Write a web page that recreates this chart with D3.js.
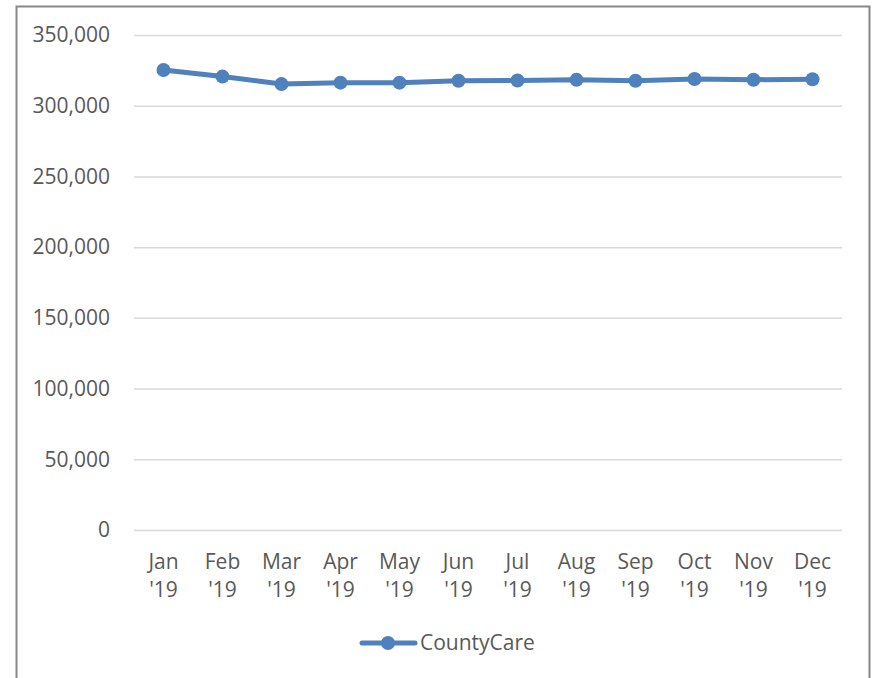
<!DOCTYPE html>
<html>
<head>
<meta charset="utf-8">
<script src="https://cdn.jsdelivr.net/npm/d3@7"></script>
<style>
  body { margin: 0; background: #fff; }
  svg text { font-family: "Open Sans", "Liberation Sans", sans-serif; fill: #595959; }
</style>
</head>
<body>
<div id="chart"></div>
<script>
var months = ["Jan", "Feb", "Mar", "Apr", "May", "Jun", "Jul", "Aug", "Sep", "Oct", "Nov", "Dec"];
var yearLabels = ["'19", "'19", "'19", "'19", "'19", "'19", "'19", "'19", "'19", "'19", "'19", "'19"];
var countyCare = [325200, 320600, 315300, 316300, 316300, 317600, 317800, 318300, 317700, 318900, 318400, 318700];
var yTicks = [0, 50000, 100000, 150000, 200000, 250000, 300000, 350000];
var seriesName = "CountyCare";

var w = 876, h = 678,
    color = "#4F81BD",
    fs = 21,
    plotLeft = 134, plotRight = 842, plotTop = 35, plotBottom = 530;

var svg = d3.select("#chart")
    .append("svg")
    .attr("width", w)
    .attr("height", h);

// frame (bottom edge is cut off in the original)
svg.append("path")
    .attr("d", "M16.5," + h + "V6.5H869.5V" + h)
    .attr("fill", "none")
    .attr("stroke", "#878787")
    .attr("stroke-width", 2);

var x = d3.scaleBand().domain(months).range([plotLeft, plotRight]);
var y = d3.scaleLinear().domain([0, 350000]).range([plotBottom, plotTop]);

// gridlines
svg.append("g")
    .selectAll("line")
    .data(yTicks)
    .enter()
    .append("line")
    .attr("x1", plotLeft)
    .attr("x2", plotRight)
    .attr("y1", function (d) { return y(d) + 0.5; })
    .attr("y2", function (d) { return y(d) + 0.5; })
    .attr("stroke", "#d9d9d9")
    .attr("stroke-width", 1.5);

// y axis labels
var yAxis = d3.axisLeft(y)
    .tickValues(yTicks)
    .tickSize(0)
    .tickPadding(24)
    .tickFormat(d3.format(","));

svg.append("g")
    .attr("transform", "translate(" + plotLeft + ",0)")
    .call(yAxis)
    .call(function (g) { g.select(".domain").remove(); })
    .selectAll("text")
    .attr("font-size", fs)
    .attr("font-family", null);

// x axis labels, two lines each
var xLab = svg.append("g").selectAll("text")
    .data(months)
    .enter()
    .append("text")
    .attr("text-anchor", "middle")
    .attr("font-size", fs)
    .attr("x", function (d) { return x(d) + x.bandwidth() / 2; })
    .attr("y", 569);

xLab.append("tspan")
    .text(function (d) { return d; });
xLab.append("tspan")
    .attr("x", function (d) { return x(d) + x.bandwidth() / 2; })
    .attr("dy", 28)
    .text(function (d, i) { return yearLabels[i]; });

// line
var line = d3.line()
    .x(function (d, i) { return x(months[i]) + x.bandwidth() / 2; })
    .y(function (d) { return y(d); });

svg.append("path")
    .datum(countyCare)
    .attr("d", line)
    .attr("fill", "none")
    .attr("stroke", color)
    .attr("stroke-width", 5)
    .attr("stroke-linejoin", "round");

svg.append("g").selectAll("circle")
    .data(countyCare)
    .enter()
    .append("circle")
    .attr("cx", function (d, i) { return x(months[i]) + x.bandwidth() / 2; })
    .attr("cy", function (d) { return y(d); })
    .attr("r", 7)
    .attr("fill", color);

// legend
var lg = svg.append("g");
lg.append("line")
    .attr("x1", 362).attr("x2", 415)
    .attr("y1", 643).attr("y2", 643)
    .attr("stroke", color)
    .attr("stroke-width", 5)
    .attr("stroke-linecap", "round");
lg.append("circle")
    .attr("cx", 388).attr("cy", 643).attr("r", 7)
    .attr("fill", color);
lg.append("text")
    .attr("x", 420).attr("y", 650)
    .attr("font-size", fs)
    .text(seriesName);
</script>
</body>
</html>
